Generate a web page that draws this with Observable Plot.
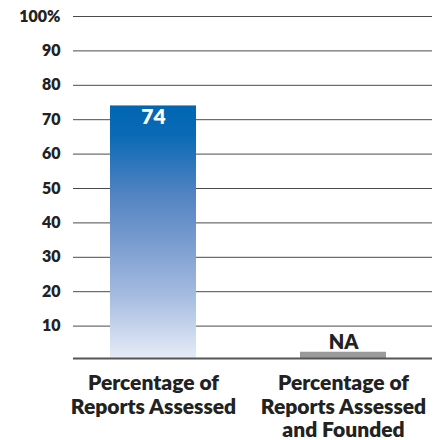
<!DOCTYPE html>
<html>
<head>
<meta charset="utf-8">
<script src="https://cdn.jsdelivr.net/npm/d3@7"></script>
<script src="https://cdn.jsdelivr.net/npm/@observablehq/plot@0.6"></script>
<style>
  html, body { margin: 0; padding: 0; background: #fff; }
  #chart svg { display: block; font-family: Lato, sans-serif; }
</style>
</head>
<body>
<div id="chart"></div>
<script>
const categories = ["Percentage of\nReports Assessed", "Percentage of\nReports Assessed\nand Founded"];
const values = [74, 2.4];            // second bar is only a grey "NA" stub
const valueLabels = ["74", "NA"];
const barFills = ["url(#barGrad)", "#9a9a9a"];
const yTicks = [10, 20, 30, 40, 50, 60, 70, 80, 90, 100];
const yTickLabels = ["10", "20", "30", "40", "50", "60", "70", "80", "90", "100%"];

const data = categories.map((c, i) => ({cat: c, value: values[i], label: valueLabels[i], fill: barFills[i]}));

const gradientDefs = () => {
  const defs = d3.create("svg:defs");
  const g = defs.append("linearGradient").attr("id", "barGrad")
    .attr("x1", 0).attr("y1", 0).attr("x2", 0).attr("y2", 1);
  [[0, "#0066b3"], [0.12, "#0b6ab5"], [0.35, "#5283c2"], [0.55, "#7b9dd0"], [0.75, "#a4bbe0"], [1, "#e6ecf7"]]
    .forEach(([o, c]) => g.append("stop").attr("offset", o).attr("stop-color", c));
  return defs.node();
};

const chart = Plot.plot({
  width: 442,
  height: 440,
  marginLeft: 73,
  marginRight: 10,
  marginTop: 16,
  marginBottom: 80,
  style: {fontFamily: "Lato, sans-serif", color: "#222", background: "#fff"},
  x: {domain: categories, paddingInner: 0.547, paddingOuter: 0.218, align: 0.446, axis: null},
  y: {domain: [0, 100], axis: null},
  color: {type: "identity"},
  marks: [
    gradientDefs,
    Plot.ruleY(yTicks, {stroke: "#4a4a4a", strokeWidth: 1}),
    Plot.text(yTicks, {
      y: d => d, text: (d, i) => yTickLabels[i], frameAnchor: "left", textAnchor: "end", dx: -13,
      fontSize: 16, fontWeight: 800, fill: "#222"
    }),
    Plot.barY(data, {x: "cat", y: "value", fill: "fill", insetBottom: 2}),
    Plot.ruleY([0], {stroke: "#555", strokeWidth: 2, dy: -2}),
    Plot.text(data.filter(d => d.label !== "NA"), {
      x: "cat", y: "value", text: "label", lineAnchor: "top", dy: 3,
      fill: "white", fontSize: 21, fontWeight: 800
    }),
    Plot.text(data.filter(d => d.label === "NA"), {
      x: "cat", y: "value", text: "label", lineAnchor: "bottom", dy: -3,
      fill: "#222", fontSize: 20, fontWeight: 800
    }),
    Plot.text(data, {
      x: "cat", text: "cat", frameAnchor: "bottom", lineAnchor: "top", dy: 13,
      fontSize: 21, fontWeight: 800, fill: "#222", lineHeight: 1.12
    })
  ]
});
document.getElementById("chart").appendChild(chart);
</script>
</body>
</html>
